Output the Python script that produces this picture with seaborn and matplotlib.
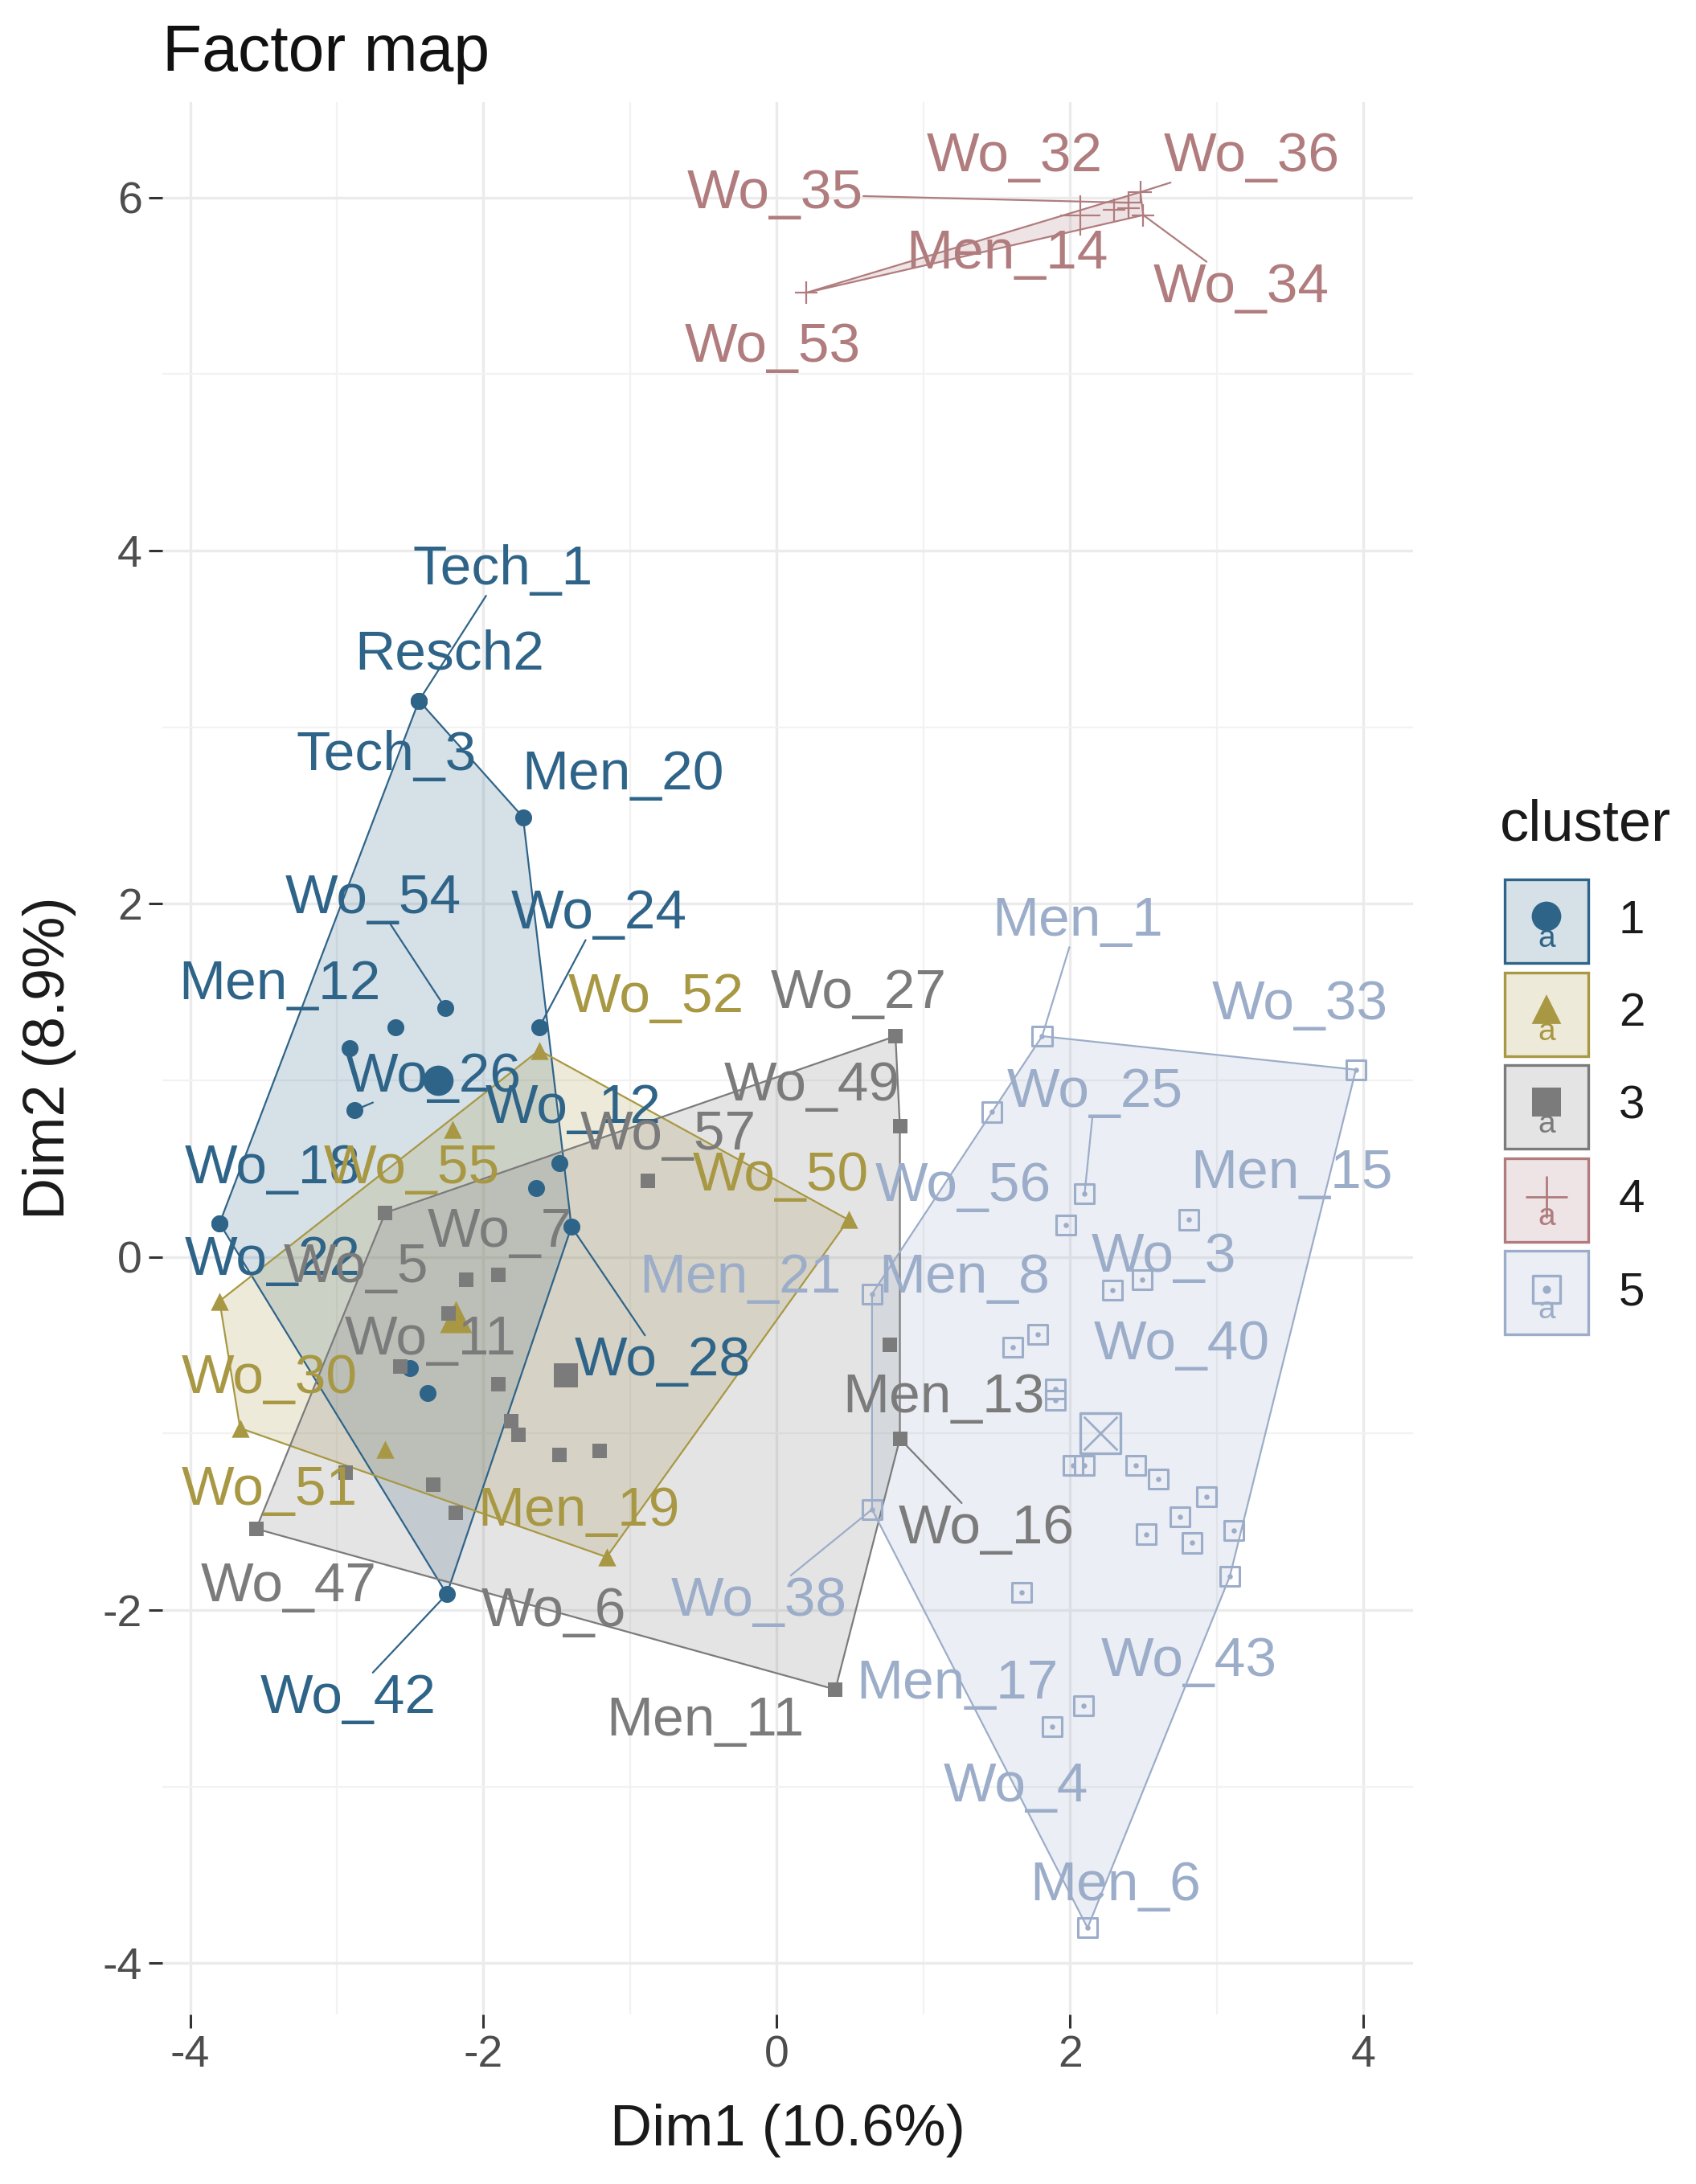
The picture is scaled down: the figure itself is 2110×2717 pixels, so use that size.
import numpy as np
import pandas as pd
import matplotlib
matplotlib.use("Agg")
import matplotlib.pyplot as plt
import seaborn as sns
from matplotlib.patches import Polygon, Rectangle

# === Data: individuals per cluster (Dim1, Dim2) ===
c1_names = ["Tech_1", "Resch2", "Tech_3", "Men_20", "Wo_54", "Wo_24", "", "Men_12", "Wo_26",
            "Wo_18", "Wo_22", "Wo_12", "", "Wo_28", "", "", "Wo_42"]
c1_x = [-2.44, -2.44, -2.44, -1.73, -2.26, -1.62, -2.60, -2.91, -2.88,
        -3.80, -3.80, -1.48, -1.64, -1.40, -2.50, -2.38, -2.25]
c1_y = [3.15, 3.15, 3.15, 2.49, 1.41, 1.30, 1.30, 1.18, 0.83,
        0.19, 0.19, 0.53, 0.39, 0.17, -0.63, -0.77, -1.91]

c2_names = ["Wo_52", "Wo_55", "Wo_50", "Wo_30", "Wo_51", "", "Men_19"]
c2_x = [-1.62, -2.21, 0.49, -3.80, -3.66, -2.67, -1.16]
c2_y = [1.17, 0.72, 0.21, -0.25, -0.97, -1.09, -1.70]

c3_names = ["Wo_27", "Wo_49", "Wo_57", "Wo_5", "", "Wo_7", "", "Wo_11", "", "", "",
            "", "", "", "", "Wo_6", "Wo_47", "Men_11", "Men_13", "Wo_16"]
c3_x = [0.81, 0.84, -0.88, -2.67, -2.12, -1.90, -2.24, -2.57, -1.90, -1.81, -1.76,
        -1.48, -1.21, -2.94, -2.34, -2.19, -3.55, 0.40, 0.77, 0.84]
c3_y = [1.25, 0.74, 0.43, 0.25, -0.13, -0.10, -0.32, -0.62, -0.72, -0.93, -1.01,
        -1.12, -1.10, -1.22, -1.29, -1.45, -1.54, -2.45, -0.50, -1.03]

c4_names = ["Wo_35", "Wo_32", "Wo_36", "Men_14", "Wo_34", "Wo_53"]
c4_x = [2.40, 2.30, 2.48, 2.40, 2.50, 0.20]
c4_y = [5.97, 5.93, 6.03, 5.94, 5.90, 5.46]

c5_names = ["Men_1", "Wo_33", "Wo_56", "Wo_25", "", "Men_15", "Wo_3", "", "Men_8", "",
            "Wo_40", "", "Men_21", "Wo_38", "", "", "", "", "", "", "", "", "", "",
            "Men_17", "Wo_43", "Wo_4", "Men_6"]
c5_x = [1.81, 3.95, 1.47, 2.10, 1.97, 2.81, 2.29, 2.49, 1.78, 1.61,
        1.90, 1.90, 0.65, 0.65, 2.02, 2.10, 2.45, 2.60, 2.75, 2.93, 2.52, 2.83, 3.12, 3.09,
        1.67, 2.09, 1.88, 2.12]
c5_y = [1.25, 1.06, 0.82, 0.36, 0.18, 0.21, -0.19, -0.13, -0.44, -0.51,
        -0.75, -0.81, -0.21, -1.43, -1.18, -1.18, -1.18, -1.26, -1.47, -1.36, -1.57, -1.62, -1.55, -1.81,
        -1.90, -2.54, -2.66, -3.80]

# cluster centres (Dim1, Dim2)
centre_x = [-2.31, -2.19, -1.44, 2.07, 2.21]
centre_y = [1.00, -0.34, -0.67, 5.90, -1.00]

# label anchor positions (Dim1, Dim2)
c1_lab = [(-1.87, 3.89), (-2.23, 3.41), (-2.66, 2.84), (-1.05, 2.73), (-2.75, 2.03), (-1.21, 1.94),
          None, (-3.39, 1.54), (-2.34, 1.02), (-3.44, 0.50), (-3.44, -0.02), (-1.39, 0.84),
          None, (-0.78, -0.59), None, None, (-2.92, -2.50)]
c2_lab = [(-0.82, 1.47), (-2.49, 0.50), (0.03, 0.46), (-3.46, -0.69), (-3.46, -1.32), None, (-1.35, -1.44)]
c3_lab = [(0.56, 1.49), (0.24, 0.97), (-0.74, 0.69), (-2.87, -0.06), None, (-1.89, 0.14), None,
          (-2.36, -0.47), None, None, None, None, None, None, None, (-1.52, -2.01), (-3.33, -1.87),
          (-0.49, -2.63), (1.14, -0.80), (1.43, -1.54)]
c4_lab = [(-0.01, 6.02), (1.62, 6.23), (3.24, 6.23), (1.57, 5.68), (3.17, 5.49), (-0.03, 5.15)]
c5_lab = [(2.05, 1.90), (3.57, 1.43), (1.27, 0.40), (2.17, 0.93), None, (3.51, 0.47), (2.64, 0.00), None,
          (1.28, -0.12), None, (2.76, -0.50), None, (-0.25, -0.12), (-0.12, -1.95), None, None, None,
          None, None, None, None, None, None, None, (1.23, -2.42), (2.81, -2.29), (1.63, -3.00), (2.31, -3.56)]

# labels that ggrepel joined to their point with a segment
seg_labels = ["Tech_1", "Wo_54", "Wo_24", "Wo_26", "Wo_28", "Wo_42", "Wo_35", "Wo_36", "Wo_34",
              "Men_1", "Wo_25", "Wo_16", "Wo_38"]

clusters = ["1", "2", "3", "4", "5"]
colors = ["#2F6489", "#A89843", "#7B7B7B", "#B07C7E", "#9CADC9"]

# === Build long table ===
frames = []
for k, (nm, xs, ys, lab) in enumerate([(c1_names, c1_x, c1_y, c1_lab), (c2_names, c2_x, c2_y, c2_lab),
                                       (c3_names, c3_x, c3_y, c3_lab), (c4_names, c4_x, c4_y, c4_lab),
                                       (c5_names, c5_x, c5_y, c5_lab)]):
    frames.append(pd.DataFrame({"name": nm, "Dim1": xs, "Dim2": ys, "cluster": clusters[k],
                                "lab": lab}))
df = pd.concat(frames, ignore_index=True)
centres = pd.DataFrame({"cluster": clusters, "Dim1": centre_x, "Dim2": centre_y})


def convex_hull(xs, ys):
    pts = sorted(set(zip(xs, ys)))
    if len(pts) < 3:
        return pts

    def cross(o, a, b):
        return (a[0] - o[0]) * (b[1] - o[1]) - (a[1] - o[1]) * (b[0] - o[0])
    lower, upper = [], []
    for p in pts:
        while len(lower) >= 2 and cross(lower[-2], lower[-1], p) <= 0:
            lower.pop()
        lower.append(p)
    for p in reversed(pts):
        while len(upper) >= 2 and cross(upper[-2], upper[-1], p) <= 0:
            upper.pop()
        upper.append(p)
    return lower[:-1] + upper[:-1]


# === Style ===
sns.set_theme(style="white")
plt.rcParams["font.family"] = ["Liberation Sans", "DejaVu Sans"]
plt.rcParams["axes.unicode_minus"] = False

W, H = 2110, 2717
fig = plt.figure(figsize=(W / 100, H / 100), dpi=100)
ax = fig.add_axes([202 / W, 1 - 2506 / H, (1758 - 202) / W, (2506 - 127) / H])
ax.set_xlim(-4.19, 4.34)
ax.set_ylim(-4.29, 6.54)

# === Hulls ===
for k, c in enumerate(clusters):
    sub = df[df["cluster"] == c]
    hp = convex_hull(sub["Dim1"].tolist(), sub["Dim2"].tolist())
    ax.add_patch(Polygon(hp, closed=True, facecolor=colors[k], alpha=0.2, edgecolor="none", zorder=1))
    ax.add_patch(Polygon(hp, closed=True, facecolor="none", edgecolor=colors[k], lw=1.6, zorder=2))

# === Points ===
mk = {"1": "o", "2": "^", "3": "s", "4": "+"}
sz = {"1": 230, "2": 260, "3": 150, "4": 420}
for k, c in enumerate(clusters):
    sub = df[df["cluster"] == c]
    cen = centres[centres["cluster"] == c]
    if c in mk:
        lw = 1.6 if c == "4" else 0
        sns.scatterplot(data=sub, x="Dim1", y="Dim2", marker=mk[c], s=sz[c], color=colors[k],
                        edgecolor=colors[k], linewidth=lw, legend=False, ax=ax, zorder=3)
        sns.scatterplot(data=cen, x="Dim1", y="Dim2", marker=mk[c], s=sz[c] * 3.2, color=colors[k],
                        edgecolor=colors[k], linewidth=lw, legend=False, ax=ax, zorder=3)
    else:
        sns.scatterplot(data=sub, x="Dim1", y="Dim2", marker="s", s=300, facecolors="none",
                        edgecolor=colors[k], linewidth=2.2, legend=False, ax=ax, zorder=3)
        sns.scatterplot(data=sub, x="Dim1", y="Dim2", marker="o", s=22, color=colors[k],
                        edgecolor=colors[k], linewidth=0, legend=False, ax=ax, zorder=3)
        sns.scatterplot(data=cen, x="Dim1", y="Dim2", marker="s", s=1300, facecolors="none",
                        edgecolor=colors[k], linewidth=2.4, legend=False, ax=ax, zorder=3)
        sns.scatterplot(data=cen, x="Dim1", y="Dim2", marker="x", s=900, color=colors[k],
                        linewidth=2.0, legend=False, ax=ax, zorder=3)

# === Labels ===
texts = []
for _, r in df.iterrows():
    if r["name"] == "" or r["lab"] is None:
        continue
    k = clusters.index(r["cluster"])
    t = ax.text(r["lab"][0], r["lab"][1], r["name"], ha="center", va="center",
                fontsize=50, color=colors[k], zorder=5)
    texts.append((t, r))

# === Axes cosmetics ===
ax.set_xticks([-4, -2, 0, 2, 4])
ax.set_yticks([-4, -2, 0, 2, 4, 6])
ax.set_xticks([-3, -1, 1, 3], minor=True)
ax.set_yticks([-3, -1, 1, 3, 5], minor=True)
ax.grid(which="major", color="#EBEBEB", lw=2.4)
ax.grid(which="minor", color="#F2F2F2", lw=1.6)
ax.set_axisbelow(True)
for s in ax.spines.values():
    s.set_visible(False)
ax.tick_params(which="major", left=True, bottom=True, length=12, width=2.2, color="#333333",
               labelsize=40, labelcolor="#4D4D4D", pad=6)
ax.tick_params(which="minor", length=0)
ax.set_xlabel("Dim1 (10.6%)", fontsize=52, color="#1A1A1A")
ax.set_ylabel("Dim2 (8.9%)", fontsize=52, color="#1A1A1A")
ax.xaxis.set_label_coords(0.5, (2506 - 2650) / (2506 - 127))
ax.xaxis.label.set_va("center")
ax.yaxis.set_label_coords((61 - 202) / (1758 - 202), 0.5)
ax.yaxis.label.set_va("center")
ax.set_title("Factor map", loc="left", fontsize=58, color="#111111", pad=28)

# === Repel segments ===
fig.canvas.draw()
renderer = fig.canvas.get_renderer()
inv = ax.transData.inverted()
for t, r in texts:
    if r["name"] not in seg_labels:
        continue
    bb = t.get_window_extent(renderer)
    P = ax.transData.transform((r["Dim1"], r["Dim2"]))
    C = np.array([(bb.x0 + bb.x1) / 2, (bb.y0 + bb.y1) / 2])
    d = P - C
    ts = []
    if d[0] != 0:
        ts.append(((bb.x1 if d[0] > 0 else bb.x0) - C[0]) / d[0])
    if d[1] != 0:
        ts.append(((bb.y1 if d[1] > 0 else bb.y0) - C[1]) / d[1])
    tt = min(ts)
    if tt >= 1:
        continue
    E = C + tt * d
    pe = inv.transform([P, E])
    k = clusters.index(r["cluster"])
    ax.plot(pe[:, 0], pe[:, 1], color=colors[k], lw=1.6, zorder=4)

# === Legend (drawn in pixel space) ===
lax = fig.add_axes([0, 0, 1, 1])
lax.set_xlim(0, W)
lax.set_ylim(H, 0)
lax.axis("off")
lax.patch.set_alpha(0)
lax.text(1866, 1027, "cluster", fontsize=52, color="#1A1A1A", ha="left", va="center")
lmk = ["o", "^", "s", "+", "s"]
for k in range(5):
    top = 1094 + k * 115.5
    cy = top + 52
    lax.add_patch(Rectangle((1872, top), 104, 104, facecolor=colors[k], alpha=0.2, edgecolor="none"))
    lax.add_patch(Rectangle((1872, top), 104, 104, facecolor="none", edgecolor=colors[k], lw=2.4))
    lax.text(1924, cy + 22, "a", fontsize=28, color=colors[k], ha="center", va="center")
    if k == 4:
        lax.scatter([1924], [cy - 4], marker="s", s=600, facecolors="none", edgecolors=colors[k], linewidths=2.4)
        lax.scatter([1924], [cy - 4], marker="o", s=40, color=colors[k])
    elif k == 3:
        lax.scatter([1924], [cy - 4], marker="+", s=1400, color=colors[k], linewidths=2)
    else:
        lax.scatter([1924], [cy - 6], marker=lmk[k], s=700, color=colors[k], edgecolors="none")
    lax.text(2014, cy, clusters[k], fontsize=42, color="#1A1A1A", ha="left", va="center")

fig.savefig("out.png", dpi=100)
